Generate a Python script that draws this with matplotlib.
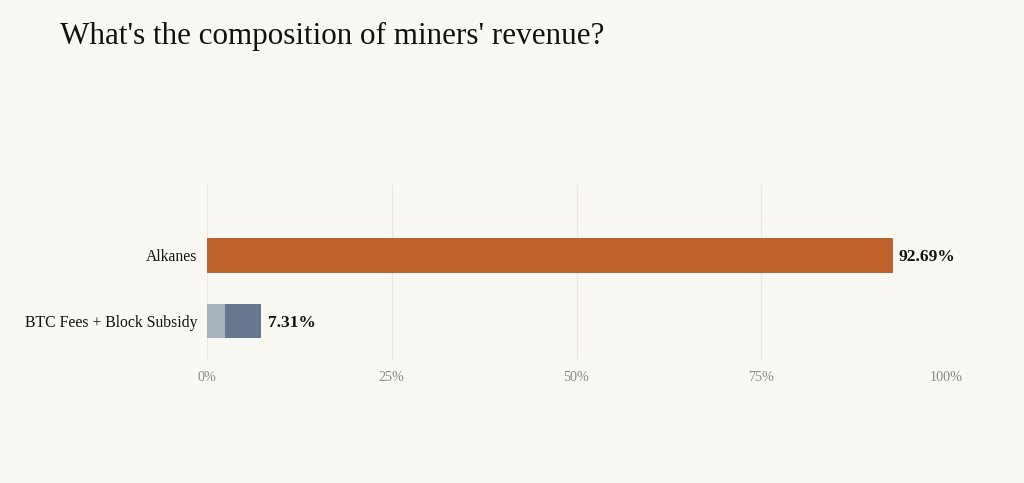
import matplotlib
matplotlib.use("Agg")
import matplotlib.pyplot as plt

categories = ["Alkanes", "BTC Fees + Block Subsidy"]
alkanes_value = [92.69]
btc_fees = [2.44]
block_subsidy = [4.87]
totals = [92.69, 7.31]
xticks = [0, 25, 50, 75, 100]
xtick_labels = ["0%", "25%", "50%", "75%", "100%"]

bg = "#faf8f3"
plt.rcParams['font.family'] = ['Liberation Serif', 'DejaVu Serif']

fig = plt.figure(figsize=(10.24, 4.83), dpi=100, facecolor=bg)
ax = fig.add_axes([0.202, 0.255, 0.722, 0.362], facecolor=bg)

ypos = [0, 1]
h = 0.51
ax.barh([ypos[0]], alkanes_value, height=h, color="#c0622c", edgecolor="#b0582a", linewidth=0.6, zorder=3)
ax.barh([ypos[1]], btc_fees, height=h, color="#a6b3bd", zorder=3)
ax.barh([ypos[1]], block_subsidy, left=btc_fees, height=h, color="#66778f", zorder=3)

for y, t in zip(ypos, totals):
    ax.text(t + 0.9, y + 0.03, f"{t:.2f}%", va="center", ha="left", fontsize=12.5,
            fontweight="bold", color="#111111", zorder=4)

ax.set_xlim(0, 100)
ax.set_ylim(1.58, -1.05)
ax.set_yticks(ypos)
ax.set_yticklabels(categories, fontsize=11.3, color="#111111")
ax.set_xticks(xticks)
ax.set_xticklabels(xtick_labels, fontsize=10.2, color="#8a8a8a")
ax.tick_params(axis="both", length=0)
ax.tick_params(axis="x", pad=8)
ax.tick_params(axis="y", pad=7)
ax.grid(axis="x", color="#ebe8e2", linewidth=0.9, zorder=0)
for s in ax.spines.values():
    s.set_visible(False)

fig.text(0.0586, 0.925, "What's the composition of miners' revenue?", fontsize=22.4,
         color="#111111", ha="left", va="center")

fig.savefig("out.png", dpi=100, facecolor=bg)
